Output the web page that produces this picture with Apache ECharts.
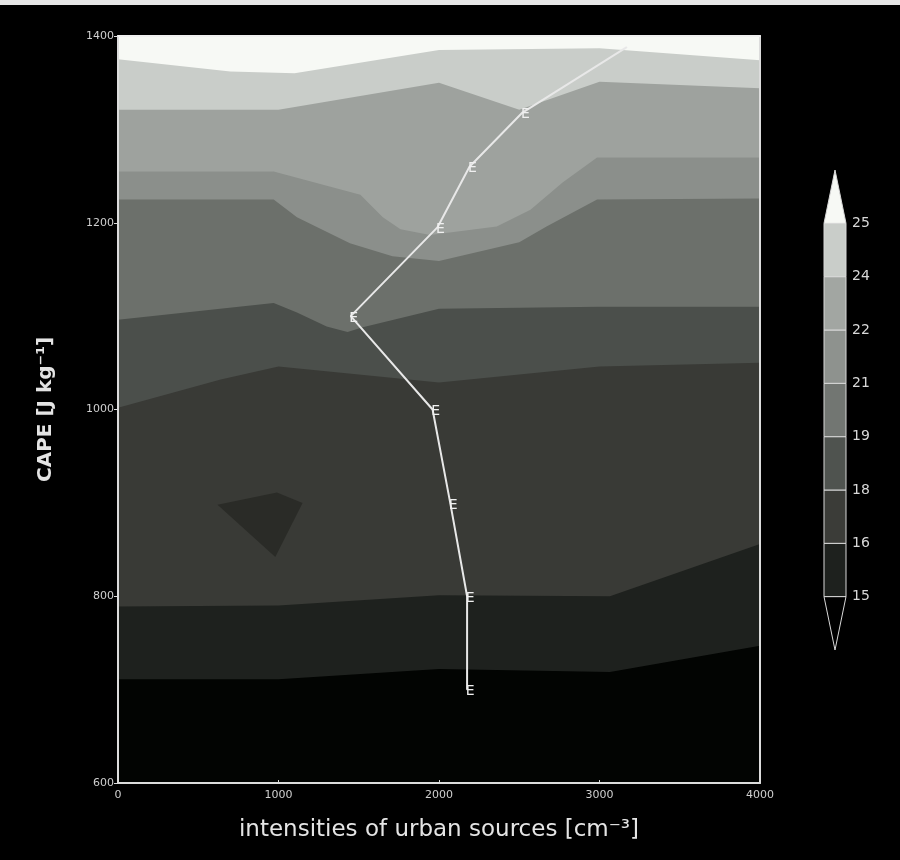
<!DOCTYPE html>
<html><head><meta charset="utf-8">
<script src="https://cdn.jsdelivr.net/npm/echarts@6/dist/echarts.min.js"></script>
<style>html,body{margin:0;padding:0;background:#000}#c{width:900px;height:860px}</style>
</head><body><div id="c"></div>
<script>
// ---- data ----
const xTicks = [0, 1000, 2000, 3000, 4000];
const yTicks = [600, 800, 1000, 1200, 1400];
const levels = [15, 16, 18, 19, 21, 22, 24, 25];
// contour boundaries [x, CAPE]
const b25 = [[0,1375],[700,1362],[1100,1360],[2000,1385],[3000,1387],[4000,1374]];
const b24 = [[0,1321],[1000,1321],[2000,1350],[2500,1321],[3000,1351],[4000,1344]];
const b22 = [[0,1255],[970,1255],[1510,1230],[1650,1206],[1760,1193],[1945,1187],[2360,1196],[2570,1214],[2770,1243],[2985,1270],[4000,1270]];
const b21 = [[0,1225],[970,1225],[1115,1206],[1445,1178],[1710,1164],[2000,1159],[2500,1179],[2670,1196],[2985,1225],[4000,1226]];
const b19 = [[0,1096],[970,1114],[1115,1104],[1300,1089],[1430,1083],[1525,1088],[2000,1108],[3000,1110],[4000,1110]];
const b18 = [[0,1002],[640,1032],[1000,1046],[2000,1029],[3000,1046],[4000,1050]];
const b16 = [[0,789],[1000,790],[2000,801],[3065,800],[4000,856]];
const b15 = [[0,711],[1000,711],[2000,722],[3065,719],[4000,747]];
const darkPatch = [[620,898],[990,911],[1150,900],[980,842]];
const pathE = [[2175,700],[2175,800],[2070,900],[1960,1000],[1450,1100],[1990,1195],[2190,1260],[2520,1318],[3170,1388]];

// ---- styles ----
const aboveColor = '#f7f9f5';
const bandColors = ['#c9cdc9','#9ea29e','#8b8f8b','#6c706b','#4b4f4b','#393a36','#1e211e','#020402'];
const barColors = ['#1e211e','#3b3c38','#4f534f','#727672','#8e928e','#a2a6a2','#c9cdc9'];
const patchColor = '#2a2b27';
const txt = '#e4e4e4';

const boundaries = [b25, b24, b22, b21, b19, b18, b16, b15];

const series = boundaries.map((b, i) => ({
  type: 'line', data: b, symbol: 'none', silent: true,
  xAxisIndex: 0, yAxisIndex: 0,
  lineStyle: { width: 0, opacity: 0 },
  areaStyle: { color: bandColors[i], opacity: 1, origin: 'start' },
  z: 2
}));

series.push({
  type: 'custom', xAxisIndex: 0, yAxisIndex: 0, silent: true, z: 3,
  data: [0],
  renderItem: (params, api) => ({
    type: 'polygon',
    shape: { points: darkPatch.map(p => api.coord(p)) },
    style: { fill: patchColor }
  })
});

series.push({
  type: 'line', data: pathE, xAxisIndex: 0, yAxisIndex: 0, silent: true, z: 5,
  symbol: 'circle', symbolSize: 1,
  lineStyle: { color: '#e8e8e8', width: 2 },
  itemStyle: { color: '#e8e8e8' },
  label: {
    show: true, position: 'inside', offset: [3, 2], color: '#f0f0f0', fontSize: 14,
    fontFamily: 'DejaVu Sans',
    formatter: p => (p.dataIndex === pathE.length - 1 ? '' : 'E')
  }
});

// colorbar
series.push({
  type: 'custom', xAxisIndex: 2, yAxisIndex: 2, silent: true, z: 3,
  data: levels.map((v, i) => [i]),
  renderItem: (params, api) => {
    const i = params.dataIndex;
    if (i < levels.length - 1) {
      const p0 = api.coord([0, i + 1]);
      const p1 = api.coord([1, i]);
      return { type: 'rect', shape: { x: p0[0], y: p0[1], width: p1[0] - p0[0], height: p1[1] - p0[1] },
        style: { fill: barColors[i], stroke: '#d8d8d8', lineWidth: 1 } };
    }
    const n = levels.length - 1;
    return { type: 'group', children: [
      { type: 'polygon', shape: { points: [api.coord([0, n]), api.coord([1, n]), api.coord([0.5, n + 1])] },
        style: { fill: '#f7f9f5', stroke: '#d8d8d8', lineWidth: 1 } },
      { type: 'polygon', shape: { points: [api.coord([0, 0]), api.coord([1, 0]), api.coord([0.5, -1])] },
        style: { fill: '#000', stroke: '#d8d8d8', lineWidth: 1 } }
    ]};
  }
});

const chart = echarts.init(document.getElementById('c'), null, { renderer: 'canvas' });
chart.setOption({
  backgroundColor: '#000',
  animation: false,
  graphic: [{ type: 'rect', left: 0, top: 0, shape: { width: 900, height: 5 }, style: { fill: '#e6e6e6' }, silent: true }],
  grid: [
    { left: 118, right: 140, top: 36, bottom: 77, show: true, backgroundColor: aboveColor, borderWidth: 0 },
    { left: 824, width: 22, top: 170, bottom: 210 }
  ],
  xAxis: [
    { gridIndex: 0, type: 'value', min: xTicks[0], max: xTicks[xTicks.length - 1], interval: 1000,
      position: 'bottom',
      name: 'intensities of urban sources [cm⁻³]', nameLocation: 'middle', nameGap: 36,
      nameTextStyle: { color: txt, fontSize: 23, fontFamily: 'DejaVu Sans' },
      axisLine: { show: true, onZero: false, lineStyle: { color: '#dcdcdc', width: 2 } },
      axisTick: { show: true, inside: true, length: 3, lineStyle: { color: '#dcdcdc' } },
      axisLabel: { color: '#cfcfcf', fontSize: 11, margin: 7, fontFamily: 'DejaVu Sans', formatter: v => String(v) },
      splitLine: { show: false }, z: 10 },
    { gridIndex: 0, type: 'value', min: 0, max: 4000, position: 'top',
      axisLine: { show: true, onZero: false, lineStyle: { color: '#f0f0f0', width: 2 } },
      axisTick: { show: false }, axisLabel: { show: false }, splitLine: { show: false }, z: 10 },
    { gridIndex: 1, type: 'value', min: 0, max: 1, show: false }
  ],
  yAxis: [
    { gridIndex: 0, type: 'value', min: yTicks[0], max: yTicks[yTicks.length - 1], interval: 200,
      name: 'CAPE [J kg⁻¹]', nameLocation: 'middle', nameGap: 62, nameRotate: 90,
      nameTextStyle: { color: txt, fontSize: 20, fontWeight: 'bold', fontFamily: 'DejaVu Sans' },
      axisLine: { show: true, onZero: false, lineStyle: { color: '#dcdcdc', width: 2 } },
      axisTick: { show: true, length: 4, lineStyle: { color: '#dcdcdc' } },
      axisLabel: { color: '#cfcfcf', fontSize: 11, margin: 4, fontFamily: 'DejaVu Sans', formatter: v => String(v) },
      splitLine: { show: false }, z: 10 },
    { gridIndex: 0, type: 'value', min: 600, max: 1400, position: 'right',
      axisLine: { show: true, onZero: false, lineStyle: { color: '#dcdcdc', width: 2 } },
      axisTick: { show: false }, axisLabel: { show: false }, splitLine: { show: false }, z: 10 },
    { gridIndex: 1, type: 'value', min: -1, max: levels.length, interval: 1, position: 'right',
      axisLine: { show: false }, axisTick: { show: false }, splitLine: { show: false },
      axisLabel: { color: '#d8d8d8', fontSize: 14, margin: 6, fontFamily: 'DejaVu Sans',
        formatter: v => (v >= 0 && v < levels.length ? String(levels[v]) : '') } }
  ],
  series: series
});
</script></body></html>
